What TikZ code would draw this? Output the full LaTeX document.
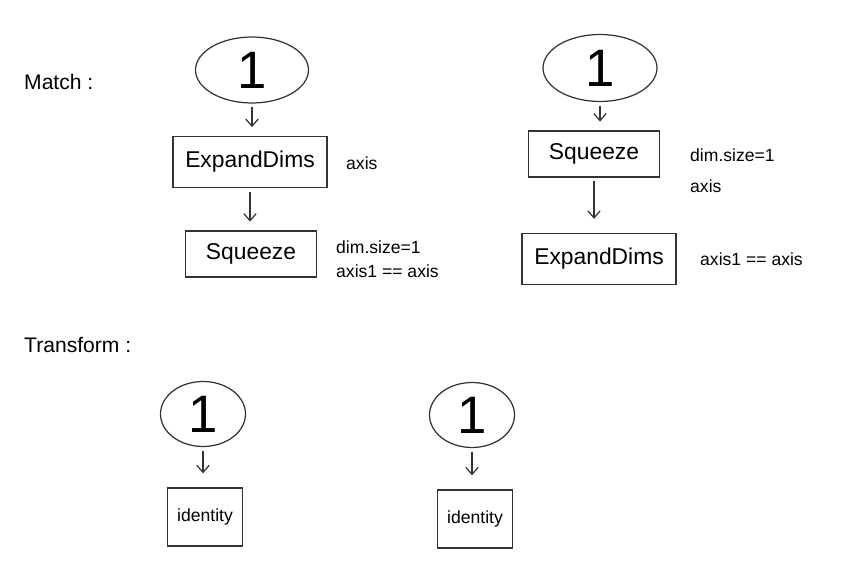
\documentclass[tikz,border=0pt]{standalone}
\usepackage{fontspec}
\setmainfont{Liberation Sans}
\usetikzlibrary{shapes.geometric,arrows.meta}

\begin{document}
\begin{tikzpicture}[x=0.02cm,y=-0.02cm,
  ln/.style={line width=0.7pt,draw=black!80},
  oval/.style={ellipse,ln,inner sep=0pt,font=\fontsize{30}{30}\selectfont},
  opbox/.style={rectangle,ln,inner sep=0pt,font=\fontsize{13}{15}\selectfont},
  note/.style={anchor=west,font=\fontsize{10}{12}\selectfont},
  lbl/.style={anchor=west,font=\fontsize{12}{14}\selectfont},
  flow/.style={ln,->,>={Straight Barb[length=4pt,width=7pt]},shorten <=2pt,shorten >=5pt}]
\useasboundingbox (0,0) rectangle (854,580);
% match
\node[lbl] (match) at (18,82) {Match :};
\node[oval,minimum width=2.26cm,minimum height=1.32cm] (l1) at (252,70) {1};
\node[opbox,minimum width=3.08cm,minimum height=1.02cm] (lexp) at (250,162) {ExpandDims};
\node[note] (lexpn) at (340,163) {axis};
\node[opbox,minimum width=2.62cm,minimum height=0.92cm] (lsq) at (251,254) {Squeeze};
\node[note] (lsqn) at (330,247) {dim.size=1};
\node[note] (lsqa) at (330,271) {axis1 == axis};
\node[oval,minimum width=2.28cm,minimum height=1.34cm] (r1) at (600,68) {1};
\node[opbox,minimum width=2.62cm,minimum height=0.92cm] (rsq) at (594,154) {Squeeze};
\node[note] (rsqn) at (684,155) {dim.size=1};
\node[note] (rsqa) at (684,186) {axis};
\node[opbox,minimum width=3.08cm,minimum height=1.02cm] (rexp) at (599,259) {ExpandDims};
\node[note] (rexpn) at (694,259) {axis1 == axis};
% transform
\node[lbl] (trans) at (18,345) {Transform :};
\node[oval,minimum width=1.7cm,minimum height=1.3cm] (b1) at (203,414) {1};
\node[opbox,font=\fontsize{10}{12}\selectfont,minimum width=1.5cm,minimum height=1.16cm] (bid) at (205,517) {identity};
\node[oval,minimum width=1.7cm,minimum height=1.3cm] (c1) at (472,415) {1};
\node[opbox,font=\fontsize{10}{12}\selectfont,minimum width=1.5cm,minimum height=1.16cm] (cid) at (475,519) {identity};
\foreach \a/\b in {l1/lexp,lexp/lsq,r1/rsq}
  \draw[flow] (\a.south) -- (\a.south |- \b.north);
\foreach \a/\b in {rsq/rexp,b1/bid,c1/cid}
  \draw[flow,shorten >=8pt] (\a.south) -- (\a.south |- \b.north);
\end{tikzpicture}
\end{document}
